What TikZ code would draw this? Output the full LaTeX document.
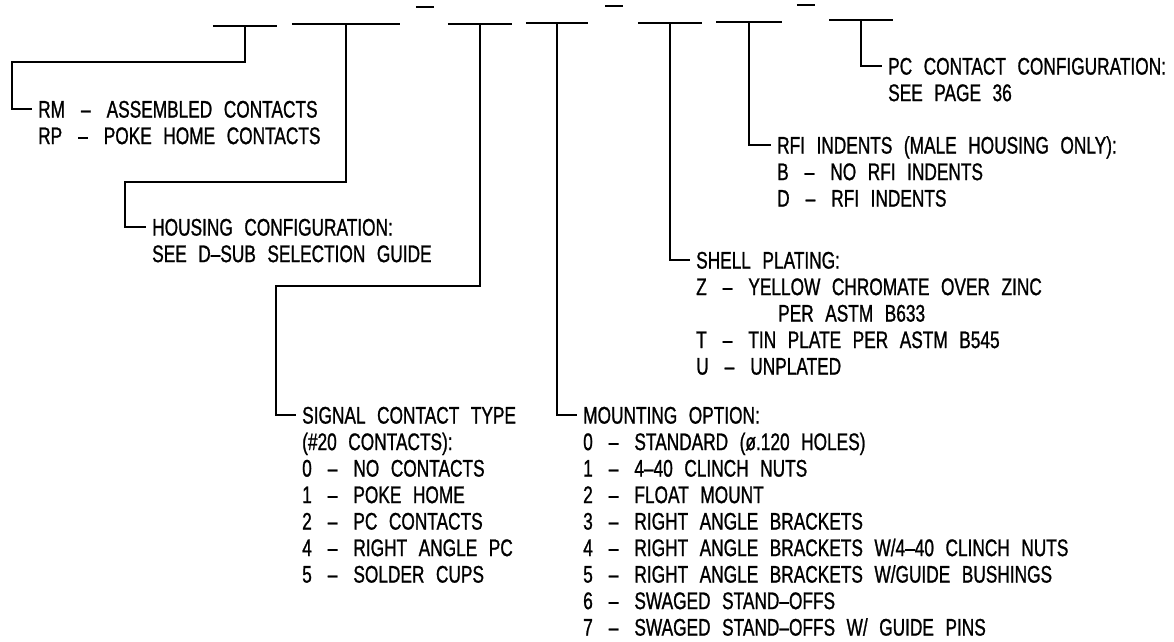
\documentclass[tikz,border=0pt]{standalone}
\usepackage{fontspec}
\setmainfont{Liberation Sans}[FakeStretch=0.72, WordSpace=2.4, FakeBold=1]
\usetikzlibrary{positioning}

\newcommand{\opt}{\unskip\hskip 16pt--\hskip 16pt\ignorespaces}
\newcommand{\optlist}[1]{\begin{tabular}[t]{@{}l@{}}#1\end{tabular}}

\begin{document}
\begin{tikzpicture}[
    x=1pt, y=-1pt,
    slot/.style={inner sep=0pt, minimum height=0pt},
    lbl/.style={anchor=base west, inner xsep=6pt, inner ysep=0pt, font=\fontsize{24}{26.5}\selectfont},
    line/.style={line width=1.3pt},
    bar/.style={line width=2.2pt},
  ]
    \useasboundingbox (0,0) rectangle (1174,641);
    % fields of the part number
    \node[slot, minimum width=64pt] (s1) at (245,26) {};
    \node[slot, minimum width=108pt] (s2) at (346,24) {};
    \node[slot, minimum width=18pt] (g1) at (425,7) {};
    \node[slot, minimum width=64pt] (s3) at (480,24) {};
    \node[slot, minimum width=62pt] (s4) at (557,23) {};
    \node[slot, minimum width=17pt] (g2) at (614,6) {};
    \node[slot, minimum width=64pt] (s5) at (670,23) {};
    \node[slot, minimum width=65pt] (s6) at (749,22) {};
    \node[slot, minimum width=18pt] (g3) at (806,5) {};
    \node[slot, minimum width=63pt] (s7) at (861,20) {};
    \foreach \f in {s1,s2,s3,s4,s5,s6,s7,g1,g2,g3}
      \draw[bar] (\f.west) -- (\f.east);

    % option lists
    \node[lbl] (rm) at (32,117.6) {\optlist{RM \opt ASSEMBLED CONTACTS\\RP \opt POKE HOME CONTACTS}};
    \node[lbl] (housing) at (146,235.6) {\optlist{HOUSING CONFIGURATION:\\SEE D--SUB SELECTION GUIDE}};
    \node[lbl] (signal) at (296,423.6) {\optlist{SIGNAL CONTACT TYPE\\(\#20 CONTACTS):\\0 \opt NO CONTACTS\\1 \opt POKE HOME\\2 \opt PC CONTACTS\\4 \opt RIGHT ANGLE PC\\5 \opt SOLDER CUPS}};
    \node[lbl] (mount) at (577,423.6) {\optlist{MOUNTING OPTION:\\0 \opt STANDARD (ø.120 HOLES)\\1 \opt 4--40 CLINCH NUTS\\2 \opt FLOAT MOUNT\\3 \opt RIGHT ANGLE BRACKETS\\4 \opt RIGHT ANGLE BRACKETS W/4--40 CLINCH NUTS\\5 \opt RIGHT ANGLE BRACKETS W/GUIDE BUSHINGS\\6 \opt SWAGED STAND--OFFS\\7 \opt SWAGED STAND--OFFS W/ GUIDE PINS}};
    \node[lbl] (shell) at (690,268.6) {\optlist{SHELL PLATING:\\Z \opt YELLOW CHROMATE OVER ZINC\\\hspace*{82pt}PER ASTM B633\\T \opt TIN PLATE PER ASTM B545\\U \opt UNPLATED}};
    \node[lbl] (rfi) at (771,153.6) {\optlist{RFI INDENTS (MALE HOUSING ONLY):\\B \opt NO RFI INDENTS\\D \opt RFI INDENTS}};
    \node[lbl] (pc) at (882,74.6) {\optlist{PC CONTACT CONFIGURATION:\\SEE PAGE 36}};

    % leaders
    \coordinate (rmk) at (12,62);
    \coordinate (hsk) at (125,182);
    \coordinate (sgk) at (276,286);
    \draw[line] (s1.center) |- (rmk) |- ([yshift=8.6pt]rm.base west);
    \draw[line] (s2.center) |- (hsk) |- ([yshift=8.6pt]housing.base west);
    \draw[line] (s3.center) |- (sgk) |- ([yshift=8.6pt]signal.base west);
    \draw[line] (s4.center) |- ([yshift=8.6pt]mount.base west);
    \draw[line] (s5.center) |- ([yshift=8.6pt]shell.base west);
    \draw[line] (s6.center) |- ([yshift=8.6pt]rfi.base west);
    \draw[line] (s7.center) |- ([yshift=8.6pt]pc.base west);
  \end{tikzpicture}
\end{document}
